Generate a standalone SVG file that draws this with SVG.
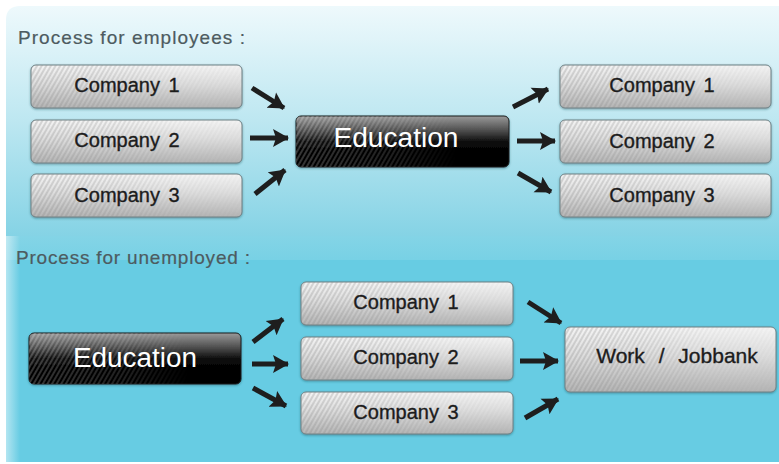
<svg xmlns="http://www.w3.org/2000/svg" width="779" height="464" viewBox="0 0 779 464">
<defs>
  <linearGradient id="bgTop" x1="0" y1="0" x2="0" y2="1">
    <stop offset="0" stop-color="#eef9fc"/>
    <stop offset="0.5" stop-color="#bde7f1"/>
    <stop offset="1" stop-color="#85d3e5"/>
  </linearGradient>
  <linearGradient id="bgBand" x1="0" y1="0" x2="0" y2="1">
    <stop offset="0" stop-color="#84d4e6"/>
    <stop offset="1" stop-color="#78d1e5"/>
  </linearGradient>
  <linearGradient id="leftEdge" x1="0" y1="0" x2="1" y2="0">
    <stop offset="0" stop-color="#ffffff" stop-opacity="0.5"/>
    <stop offset="1" stop-color="#ffffff" stop-opacity="0"/>
  </linearGradient>
  <linearGradient id="grayFill" x1="0" y1="0" x2="0" y2="1">
    <stop offset="0" stop-color="#f4f4f4"/>
    <stop offset="0.45" stop-color="#dcdcdc"/>
    <stop offset="1" stop-color="#b4b4b4"/>
  </linearGradient>
  <linearGradient id="blackFill" x1="0" y1="0" x2="0" y2="1">
    <stop offset="0" stop-color="#9a9a9a"/>
    <stop offset="0.3" stop-color="#4a4a4a"/>
    <stop offset="0.52" stop-color="#080808"/>
    <stop offset="1" stop-color="#000000"/>
  </linearGradient>
  <linearGradient id="fadeGrad" x1="0" y1="0" x2="1" y2="0">
    <stop offset="0" stop-color="#ffffff"/>
    <stop offset="0.35" stop-color="#ffffff" stop-opacity="0.8"/>
    <stop offset="0.7" stop-color="#ffffff" stop-opacity="0.25"/>
    <stop offset="1" stop-color="#ffffff" stop-opacity="0.1"/>
  </linearGradient>
  <linearGradient id="fadeGradB" x1="0" y1="0" x2="1" y2="0">
    <stop offset="0" stop-color="#ffffff"/>
    <stop offset="0.45" stop-color="#ffffff" stop-opacity="0.6"/>
    <stop offset="0.75" stop-color="#ffffff" stop-opacity="0"/>
  </linearGradient>
  <mask id="fade" maskContentUnits="objectBoundingBox">
    <rect x="0" y="0" width="1" height="1" fill="url(#fadeGrad)"/>
  </mask>
  <mask id="fadeB" maskContentUnits="objectBoundingBox">
    <rect x="0" y="0" width="1" height="1" fill="url(#fadeGradB)"/>
  </mask>
  <pattern id="stripes" width="4" height="4" patternUnits="userSpaceOnUse" patternTransform="rotate(30)">
    <line x1="1" y1="0" x2="1" y2="4" stroke="#8a8a8a" stroke-width="1.3" stroke-opacity="0.45"/>
  </pattern>
  <pattern id="stripesW" width="4" height="4" patternUnits="userSpaceOnUse" patternTransform="rotate(30)">
    <line x1="1" y1="0" x2="1" y2="4" stroke="#ffffff" stroke-width="1.2" stroke-opacity="0.35"/>
  </pattern>
  <filter id="shadow" x="-10%" y="-20%" width="120%" height="150%">
    <feDropShadow dx="0" dy="1" stdDeviation="1.2" flood-color="#1d4a55" flood-opacity="0.45"/>
  </filter>
  <marker id="head" markerUnits="userSpaceOnUse" markerWidth="18" markerHeight="20" refX="15" refY="10" orient="auto">
    <path d="M0,1 L16,10 L0,19 L3,10 Z" fill="#1e1e1e"/>
  </marker>
</defs>
<style>
  .gbox { fill: url(#grayFill); stroke: #6d8084; stroke-width: 1; filter: url(#shadow); }
  .gstripe { fill: url(#stripes); mask: url(#fade); }
  .bbox { fill: url(#blackFill); stroke: #1a1a1a; stroke-width: 1; filter: url(#shadow); }
  .bstripe { fill: url(#stripesW); mask: url(#fadeB); }
  .ctext { font-family: "Liberation Sans", Arial, sans-serif; font-size: 20px; fill: #1c1c1c; text-anchor: middle; stroke: #1c1c1c; stroke-width: 0.35; word-spacing: 3px; }
  .etext { font-family: "Liberation Sans", Arial, sans-serif; font-size: 27px; fill: #ffffff; text-anchor: middle; }
  .label { font-family: "Liberation Sans", Arial, sans-serif; font-size: 19px; fill: #4d5b60; stroke: #4d5b60; stroke-width: 0.2; }
  .arrow { stroke: #1e1e1e; stroke-width: 5; fill: none; marker-end: url(#head); }
</style>

<!-- background -->
<rect x="0" y="0" width="779" height="464" fill="#ffffff"/>
<g id="background">
  <path d="M6,20 Q6,6 20,6 L779,6 L779,236 L6,236 Z" fill="url(#bgTop)"/>
  <rect x="6" y="236" width="773" height="24" fill="url(#bgBand)"/>
  <rect x="6" y="260" width="773" height="202" fill="#67cce3"/>
  <rect x="6" y="236" width="14" height="226" fill="url(#leftEdge)"/>
</g>

<g id="label-employees">
  <text class="label" x="18" y="44" textLength="227" lengthAdjust="spacing">Process for employees :</text>
</g>
<g id="label-unemployed">
  <text class="label" x="16" y="264" textLength="234" lengthAdjust="spacing">Process for unemployed :</text>
</g>

<!-- top section -->
<g id="emp-company1-left">
  <rect class="gbox" x="31" y="65" width="211" height="43" rx="5"/>
  <rect class="gstripe" x="31" y="65" width="211" height="43" rx="5"/>
  <text class="ctext" x="127" y="92">Company 1</text>
</g>
<g id="emp-company2-left">
  <rect class="gbox" x="31" y="120" width="211" height="43" rx="5"/>
  <rect class="gstripe" x="31" y="120" width="211" height="43" rx="5"/>
  <text class="ctext" x="127" y="147">Company 2</text>
</g>
<g id="emp-company3-left">
  <rect class="gbox" x="31" y="174" width="211" height="43" rx="5"/>
  <rect class="gstripe" x="31" y="174" width="211" height="43" rx="5"/>
  <text class="ctext" x="127" y="202">Company 3</text>
</g>
<g id="emp-education">
  <rect class="bbox" x="296" y="116" width="213" height="51" rx="5"/>
  <rect class="bstripe" x="296" y="116" width="213" height="51" rx="5"/>
  <text class="etext" x="396" y="147" textLength="125" lengthAdjust="spacingAndGlyphs">Education</text>
</g>
<g id="emp-company1-right">
  <rect class="gbox" x="560" y="65" width="211" height="43" rx="5"/>
  <rect class="gstripe" x="560" y="65" width="211" height="43" rx="5"/>
  <text class="ctext" x="662" y="92">Company 1</text>
</g>
<g id="emp-company2-right">
  <rect class="gbox" x="560" y="120" width="211" height="43" rx="5"/>
  <rect class="gstripe" x="560" y="120" width="211" height="43" rx="5"/>
  <text class="ctext" x="662" y="148">Company 2</text>
</g>
<g id="emp-company3-right">
  <rect class="gbox" x="560" y="174" width="211" height="43" rx="5"/>
  <rect class="gstripe" x="560" y="174" width="211" height="43" rx="5"/>
  <text class="ctext" x="662" y="202">Company 3</text>
</g>

<!-- bottom section -->
<g id="unemp-education">
  <rect class="bbox" x="29" y="333" width="212" height="51" rx="5"/>
  <rect class="bstripe" x="29" y="333" width="212" height="51" rx="5"/>
  <text class="etext" x="135" y="367" textLength="124" lengthAdjust="spacingAndGlyphs">Education</text>
</g>
<g id="unemp-company1">
  <rect class="gbox" x="301" y="282" width="212" height="43" rx="5"/>
  <rect class="gstripe" x="301" y="282" width="212" height="43" rx="5"/>
  <text class="ctext" x="406" y="309">Company 1</text>
</g>
<g id="unemp-company2">
  <rect class="gbox" x="301" y="337" width="212" height="43" rx="5"/>
  <rect class="gstripe" x="301" y="337" width="212" height="43" rx="5"/>
  <text class="ctext" x="406" y="364">Company 2</text>
</g>
<g id="unemp-company3">
  <rect class="gbox" x="301" y="392" width="212" height="42" rx="5"/>
  <rect class="gstripe" x="301" y="392" width="212" height="42" rx="5"/>
  <text class="ctext" x="406" y="419">Company 3</text>
</g>
<g id="unemp-work-jobbank">
  <rect class="gbox" x="565" y="327" width="211" height="65" rx="5"/>
  <rect class="gstripe" x="565" y="327" width="211" height="65" rx="5"/>
  <text class="ctext" x="677" y="363" style="font-size:21px; word-spacing:8px">Work / Jobbank</text>
</g>

<!-- connectors -->
<g id="connectors">
  <line class="arrow" x1="252" y1="88" x2="284" y2="108"/>
  <line class="arrow" x1="250" y1="138" x2="288" y2="138"/>
  <line class="arrow" x1="255" y1="194" x2="285" y2="170"/>
  <line class="arrow" x1="513" y1="107" x2="548" y2="89"/>
  <line class="arrow" x1="517" y1="141" x2="555" y2="141"/>
  <line class="arrow" x1="518" y1="173" x2="551" y2="192"/>
  <line class="arrow" x1="253" y1="342" x2="283" y2="319"/>
  <line class="arrow" x1="252" y1="364" x2="288" y2="364"/>
  <line class="arrow" x1="253" y1="388" x2="286" y2="406"/>
  <line class="arrow" x1="528" y1="302" x2="561" y2="323"/>
  <line class="arrow" x1="520" y1="361" x2="558" y2="361"/>
  <line class="arrow" x1="525" y1="418" x2="558" y2="399"/>
</g>
</svg>
